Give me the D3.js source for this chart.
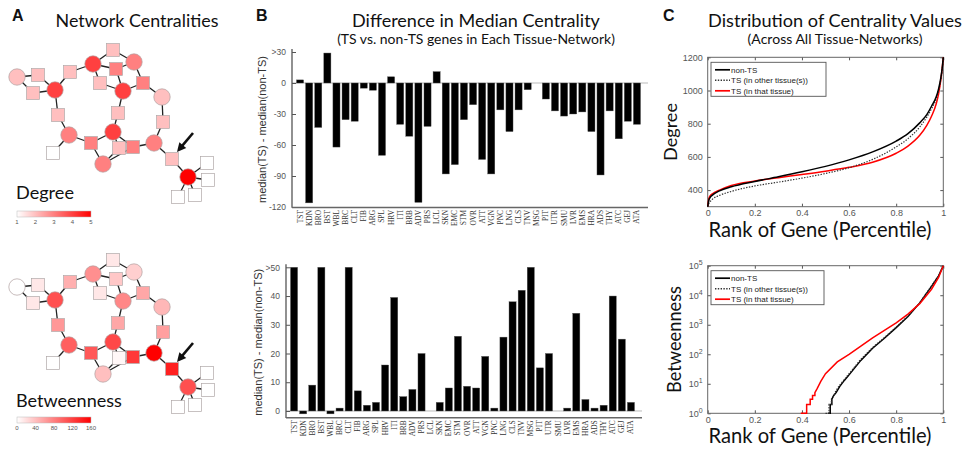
<!DOCTYPE html>
<html>
<head>
<meta charset="utf-8">
<script src="https://cdn.jsdelivr.net/npm/d3@7"></script>
<style>
  body { margin: 0; background: #fff; }
  text { font-family: "Liberation Sans", Arial, sans-serif; }
  .ttl { font-family: Lato, "Open Sans", sans-serif; fill: #111; }
</style>
</head>
<body>
<script>
// ---------- data ----------
// panel B: tissue codes and differences of the medians
const tissues = ["TST","KDN","BRO","BST","WBL","BRC","CLT","FIB","ARG","SPL","HRV","ITI","BRB","ADV","PRS","LCL",
  "SKN","EMC","STM","OVR","ATT","VGN","PNC","LNG","CLS","TNV","MSG","PIT","UTR","SMU","LVR","EMS","HRA","ADS","THY","ATC","GEJ","ATA"];
const degreeDiff = [3,-116,-43,29,-62,-35.5,-37,-5,-7,-70,6,-40,-51.5,-115.5,-42,11,
  -88,-79,-35.5,-21,-74,-88,-26,-47,-26,-6.5,0,-15.5,-27,-32,-30,-28,-47,-89,-27,-54,-37,-40];
const betweenDiff = [50,-1,9,50,-1,1,50,7,2,3,16,39.5,5,7.5,20,0,
  3,8,26,8.6,8,19,1,25.7,38,42,50,15,20,0,1,34,4,1,2,40,25,3];
const degreeTicks = [-120,-90,-60,-30,0,30];
const betweenTicks = [0,10,20,30,40,50];

// panel C: centrality value against rank percentile
const pctDeg = [0,0.005,0.01,0.02,0.05,0.1,0.2,0.3,0.4,0.5,0.6,0.7,0.8,0.85,0.9,0.93,0.95,0.97,0.98,0.99,0.995,1];
const degNonTS = [300,340,355,370,395,420,452,480,510,543,582,630,695,740,805,855,905,962,1010,1080,1130,1200];
const degOther = [300,320,330,345,368,392,425,448,472,500,535,585,660,710,780,840,890,950,1000,1070,1120,1200];
const degThat  = [300,350,365,378,400,428,455,475,494,514,537,568,622,665,730,790,845,920,980,1070,1130,1200];
const degTicks = [400,600,800,1000,1200];

const pctBetNon = [0.51,0.52,0.52,0.527,0.527,0.535,0.545,0.56,0.58,0.6,0.65,0.7,0.75,0.8,0.85,0.9,0.95,0.98,1];
const betNonTS  = [1,1,2,2,3,4,5,8,13,20,62,160,350,800,1900,5500,20000,45000,100000];
const pctBetOth = [0.50,0.515,0.515,0.525,0.525,0.535,0.545,0.56,0.58,0.6,0.65,0.7,0.75,0.8,0.85,0.9,0.95,0.98,1];
const betOther  = [1,1,2,2,3,4,6,9,14,22,68,170,370,830,1950,5600,21000,46000,100000];
const pctBetThat = [0.395,0.42,0.42,0.435,0.435,0.445,0.445,0.455,0.455,0.465,0.48,0.5,0.55,0.6,0.65,0.7,0.75,0.8,0.85,0.9,0.95,0.98,1];
const betThat    = [1,1,2,2,3,3,4,4,5,7,12,22,55,100,190,360,640,1150,2300,5200,16000,40000,100000];
const betTicks = [1,10,100,1000,10000,100000];
const pctTicks = [0,0.2,0.4,0.6,0.8,1];
const legendNames = ["non-TS","TS (in other tissue(s))","TS (in that tissue)"];

// panel A: toy network (layout units), betweenness per node, edges
const nodeIds = ["c1","s1","s2","c2","s3","c3","s4","c4","s5","s6","c5","s7","c6","s8","s9","s10",
  "c7","s11","s12","c8","s13","s14","c9","c10","s15","c11","w1","w2","w3","w4"];
const nodeX = [17,38,33,55,70,93,113,134,116,100,123,143,162,58,118,163,69,53,91,113,119,133,103,154,172,188,207,208,195,178];
const nodeY = [77,75,93,90,72,64,50,62,69,83,91,83,97,115,113,122,135,153,143,132,148,147,164,143,159,177,163,180,195,197];
const nodeBetween = [0,15,15,110,50,70,15,30,35,15,75,55,45,65,55,60,100,0,105,115,5,125,40,160,140,110,0,0,0,0];
const edges = [["c1","s1"],["c1","s2"],["s1","c2"],["s2","c2"],["c2","s3"],["c2","s8"],["s3","c3"],["c3","s4"],
  ["c3","s5"],["c3","s6"],["s4","c4"],["c4","s5"],["c4","s7"],["s5","c5"],["s6","c5"],["s7","c5"],["s7","c6"],
  ["c6","s10"],["s10","c10"],["s8","c7"],["c7","s11"],["c7","s12"],["s12","c8"],["s12","c9"],["c5","s9"],["s9","c8"],
  ["c8","s13"],["c8","s14"],["s13","c9"],["c9","s14"],["s14","c10"],["c10","s15"],["s15","c11"],
  ["c11","w1"],["c11","w2"],["c11","w3"],["c11","w4"]];

// ---------- page ----------
const svg = d3.select("body").append("svg")
    .attr("width", 968)
    .attr("height", 452)
    .style("background", "#fff");

// shrink/grow a text's font so that it spans the width seen in the figure
function fit(sel, w) {
  const fs = parseFloat(sel.style("font-size"));
  const len = sel.node().getComputedTextLength();
  if (len > 0) sel.style("font-size", (fs * w / len) + "px");
  return sel;
}

function panelLetter(t, x) {
  svg.append("text").attr("x", x).attr("y", 21).text(t)
    .style("font-size", "16px").style("font-weight", "bold").style("fill", "#111");
}

function title(t, cx, y, size, w) {
  fit(svg.append("text").attr("class", "ttl").attr("x", cx).attr("y", y)
    .attr("text-anchor", "middle").style("font-size", size + "px").text(t), w);
}

// ===== A: networks =====
panelLetter("A", 12);
title("Network Centralities", 137, 27, 17, 163);

const nodes = nodeIds.map((id, i) => ({id: id, x: nodeX[i], y: nodeY[i], bet: nodeBetween[i], deg: 0}));
const byId = new Map(nodes.map(d => [d.id, d]));
edges.forEach(e => { byId.get(e[0]).deg++; byId.get(e[1]).deg++; });

const degColor = d3.scaleLinear().domain([1, 5]).range(["#ffffff", "#ff0000"]);
const betColor = d3.scaleLinear().domain([0, 160]).range(["#ffffff", "#ff0000"]);

function network(offsetY, valueOf, color, label, labelW, barTicks, labelY, barY) {
  const nx = d3.scaleLinear().domain([0, 200]).range([0, 200]);
  const ny = d3.scaleLinear().domain([0, 200]).range([offsetY, offsetY + 200]);
  const g = svg.append("g");

  g.selectAll(".edge").data(edges).enter().append("line")
    .attr("x1", e => nx(byId.get(e[0]).x)).attr("y1", e => ny(byId.get(e[0]).y))
    .attr("x2", e => nx(byId.get(e[1]).x)).attr("y2", e => ny(byId.get(e[1]).y))
    .style("stroke", "#222").style("stroke-width", 1.3);

  g.selectAll(".node").data(nodes).enter().each(function(d) {
    const sel = d3.select(this);
    if (d.id[0] == "c") {
      sel.append("circle").attr("cx", nx(d.x)).attr("cy", ny(d.y)).attr("r", 8.2)
        .style("fill", color(valueOf(d))).style("stroke", "#b0a0a0").style("stroke-width", 0.7);
    } else {
      sel.append("rect").attr("x", nx(d.x) - 6.4).attr("y", ny(d.y) - 6.4)
        .attr("width", 12.8).attr("height", 12.8)
        .style("fill", color(valueOf(d))).style("stroke", "#b0a8a8").style("stroke-width", 0.7);
    }
  });

  // arrow pointing at the bridge node
  const t = byId.get("s15");
  const ax1 = nx(t.x) + 21, ay1 = ny(t.y) - 26, ax2 = nx(t.x) + 5, ay2 = ny(t.y) - 7;
  const ang = Math.atan2(ay2 - ay1, ax2 - ax1);
  g.append("line").attr("x1", ax1).attr("y1", ay1)
    .attr("x2", ax2 - 6 * Math.cos(ang)).attr("y2", ay2 - 6 * Math.sin(ang))
    .style("stroke", "#111").style("stroke-width", 2.6);
  const hl = 9, hw = 4.5;
  const bx = ax2 - hl * Math.cos(ang), by = ay2 - hl * Math.sin(ang);
  g.append("path")
    .attr("d", "M" + ax2 + "," + ay2 +
      "L" + (bx + hw * Math.sin(ang)) + "," + (by - hw * Math.cos(ang)) +
      "L" + (bx - hw * Math.sin(ang)) + "," + (by + hw * Math.cos(ang)) + "Z")
    .style("fill", "#111");

  // label and colour bar
  fit(g.append("text").attr("class", "ttl").attr("x", 16).attr("y", ny(labelY))
    .style("font-size", "19px").text(label), labelW);
  const gid = "grad" + offsetY;
  const grad = svg.append("defs").append("linearGradient").attr("id", gid);
  grad.append("stop").attr("offset", "0%").attr("stop-color", color(barTicks[0]));
  grad.append("stop").attr("offset", "100%").attr("stop-color", color(barTicks[barTicks.length - 1]));
  const cb = d3.scaleLinear().domain([barTicks[0], barTicks[barTicks.length - 1]]).range([17, 91]);
  g.append("rect").attr("x", 17).attr("y", ny(barY)).attr("width", 74).attr("height", 6)
    .style("fill", "url(#" + gid + ")").style("stroke", "#bbb").style("stroke-width", 0.5);
  g.selectAll(".cbt").data(barTicks).enter().append("text")
    .attr("x", d => cb(d)).attr("y", ny(barY + 13)).attr("text-anchor", "middle")
    .style("font-size", "6px").style("fill", "#555").text(d => d);
}

network(0, d => d.deg, degColor, "Degree", 58, [1, 2, 3, 4, 5], 199, 211);
network(210, d => d.bet, betColor, "Betweenness", 106, [0, 40, 80, 120, 160], 197, 207);

// ===== B: bar charts =====
panelLetter("B", 256);
title("Difference in Median Centrality", 476, 27, 16.5, 248);
title("(TS vs. non-TS genes in Each Tissue-Network)", 476, 44, 12.5, 278);

function barChart(o) {
  const x = d3.scaleBand().domain(tissues).range([o.x0, o.x1]).paddingInner(0.22);
  const y = d3.scaleLinear().domain(o.domain).range([o.yBottom, o.yTop]);
  const g = svg.append("g");

  g.append("line").attr("x1", o.axisX).attr("x2", o.axisEnd).attr("y1", y(0)).attr("y2", y(0))
    .style("stroke", "#aaa").style("stroke-width", 0.8);

  g.selectAll(".bar").data(o.values).enter().append("rect")
    .attr("x", (d, i) => x(tissues[i]))
    .attr("width", x.bandwidth())
    .attr("y", d => y(Math.max(0, d)))
    .attr("height", d => Math.abs(y(d) - y(0)))
    .style("fill", "#000").style("stroke", "#555").style("stroke-width", 0.4);

  const ya = g.append("g").attr("transform", "translate(" + o.axisX + ",0)")
    .call(d3.axisLeft(y).tickValues(o.ticks).tickSize(-4).tickPadding(6)
      .tickFormat(d => d == o.ticks[o.ticks.length - 1] ? ">" + d : d));
  ya.select(".domain").remove();
  ya.selectAll("line").style("stroke", "#555");
  ya.selectAll("text").style("font-size", "8.5px").style("fill", "#555").style("font-family", "Liberation Sans, Arial");
  g.append("line").attr("x1", o.axisX).attr("x2", o.axisX).attr("y1", o.yTop - 3).attr("y2", o.yBottom + 0.8)
    .style("stroke", "#555").style("stroke-width", 1.3);
  g.append("line").attr("x1", o.axisX).attr("x2", o.axisEnd).attr("y1", o.yBottom + 0.5).attr("y2", o.yBottom + 0.5)
    .style("stroke", "#666").style("stroke-width", 1.6);

  g.selectAll(".tl").data(tissues).enter().append("text")
    .attr("transform", d => "translate(" + (x(d) + x.bandwidth() / 2) + "," + (o.yBottom + 3) + ") rotate(-90)")
    .attr("text-anchor", "end").attr("dy", "0.33em")
    .style("font-family", "Liberation Serif, Times New Roman, serif")
    .style("font-size", "7.4px").style("fill", "#333").text(d => d);

  fit(g.append("text")
    .attr("transform", "translate(" + o.labelX + "," + ((o.yTop + o.yBottom) / 2) + ") rotate(-90)")
    .attr("text-anchor", "middle").style("font-size", "11px").style("fill", "#333")
    .text("median(TS) - median(non-TS)"), 147);
}

barChart({values: degreeDiff, domain: [-120, 30], ticks: degreeTicks,
  x0: 296.5, x1: 640.5, axisX: 292, axisEnd: 648, yTop: 52, yBottom: 207, labelX: 266});
barChart({values: betweenDiff, domain: [-2.2, 50], ticks: betweenTicks,
  x0: 290.5, x1: 634.5, axisX: 286, axisEnd: 642, yTop: 267.3, yBottom: 417.3, labelX: 262});

// ===== C: distribution curves =====
panelLetter("C", 663);
title("Distribution of Centrality Values", 835, 27, 16.5, 254);
title("(Across All Tissue-Networks)", 835, 44, 12.5, 175);

function curvePanel(o) {
  const x = d3.scaleLinear().domain([0, 1]).range([707.7, 943.3]);
  const y = o.log
    ? d3.scaleLog().domain([1, 1e5]).range([o.yBottom, o.yTop])
    : d3.scaleLinear().domain([300, 1200]).range([o.yBottom, o.yTop]);
  const g = svg.append("g");

  const tickStyle = a => {
    a.select(".domain").remove();
    a.selectAll("line").style("stroke", "#555");
    a.selectAll("text").style("font-size", "9px").style("fill", "#555").style("font-family", "Liberation Sans, Arial");
  };
  g.append("g").attr("transform", "translate(0," + o.yBottom + ")")
    .call(d3.axisBottom(x).tickValues(pctTicks).tickSize(-3).tickPadding(3).tickFormat(d3.format("")))
    .call(tickStyle);
  g.append("g").attr("transform", "translate(0," + o.yTop + ")")
    .call(d3.axisTop(x).tickValues(pctTicks).tickSize(-3).tickFormat("")).call(tickStyle);
  const yl = g.append("g").attr("transform", "translate(707.7,0)")
    .call(d3.axisLeft(y).tickValues(o.ticks).tickSize(-3).tickPadding(5).tickFormat(o.log ? () => "" : d => d))
    .call(tickStyle);
  g.append("g").attr("transform", "translate(943.3,0)")
    .call(d3.axisRight(y).tickValues(o.ticks).tickSize(-3).tickFormat("")).call(tickStyle);

  if (o.log) {
    yl.selectAll(".tick text").each(function(d) {
      const t = d3.select(this);
      t.text("10");
      t.append("tspan").attr("dy", "-0.55em").style("font-size", "7px").text(Math.round(Math.log10(d)));
    });
  }

  g.append("rect").attr("x", 707.7).attr("y", o.yTop).attr("width", 235.6).attr("height", o.yBottom - o.yTop)
    .style("fill", "none").style("stroke", "#666").style("stroke-width", 1);

  const series = [
    {xs: o.pct[0], ys: o.vals[0], color: "#000", dash: null, w: 1.5},
    {xs: o.pct[1], ys: o.vals[1], color: "#333", dash: "1.4,1.4", w: 1.2},
    {xs: o.pct[2], ys: o.vals[2], color: "#ff0000", dash: null, w: 1.5}
  ];
  const line = d3.line().x(d => x(d[0])).y(d => y(d[1]))
    .curve(o.log ? d3.curveLinear : d3.curveMonotoneX);
  const draw = [series[2], series[1], series[0]];
  if (o.log) draw.reverse();
  draw.forEach(s => {
    g.append("path").datum(s.xs.map((v, i) => [v, s.ys[i]])).attr("d", line)
      .style("fill", "none").style("stroke", s.color).style("stroke-width", s.w)
      .style("stroke-dasharray", s.dash);
  });

  // legend
  const lx = 711, ly = o.yTop + 5;
  const lg = g.append("g");
  lg.append("rect").attr("x", lx).attr("y", ly).attr("width", o.legW).attr("height", 34)
    .style("fill", "#fff").style("stroke", "#555").style("stroke-width", 0.9);
  series.forEach((s, i) => {
    const yy = ly + 7.5 + i * 10.5;
    lg.append("line").attr("x1", lx + 4).attr("x2", lx + 19).attr("y1", yy).attr("y2", yy)
      .style("stroke", s.color).style("stroke-width", s.w + 0.2).style("stroke-dasharray", s.dash);
    lg.append("text").attr("x", lx + 20).attr("y", yy + 2.8).style("font-size", "8px").style("fill", "#222")
      .text(legendNames[i]);
  });

  fit(g.append("text").attr("class", "ttl")
    .attr("transform", "translate(" + o.ylabX + "," + ((o.yTop + o.yBottom) / 2) + ") rotate(-90)")
    .attr("text-anchor", "middle").style("font-size", "19px").text(o.ylab), o.ylabW);
  fit(g.append("text").attr("class", "ttl").attr("x", 820).attr("y", o.xlabY).attr("text-anchor", "middle")
    .style("font-size", "19.5px").text("Rank of Gene (Percentile)"), 223);
}

curvePanel({log: false, yTop: 57.3, yBottom: 206.7, ticks: degTicks,
  pct: [pctDeg, pctDeg, pctDeg], vals: [degNonTS, degOther, degThat],
  legW: 115, ylab: "Degree", ylabW: 58, ylabX: 677, xlabY: 237});
curvePanel({log: true, yTop: 265.7, yBottom: 413.3, ticks: betTicks,
  pct: [pctBetNon, pctBetOth, pctBetThat], vals: [betNonTS, betOther, betThat],
  legW: 113, ylab: "Betweenness", ylabW: 107, ylabX: 681, xlabY: 443});
</script>
</body>
</html>
